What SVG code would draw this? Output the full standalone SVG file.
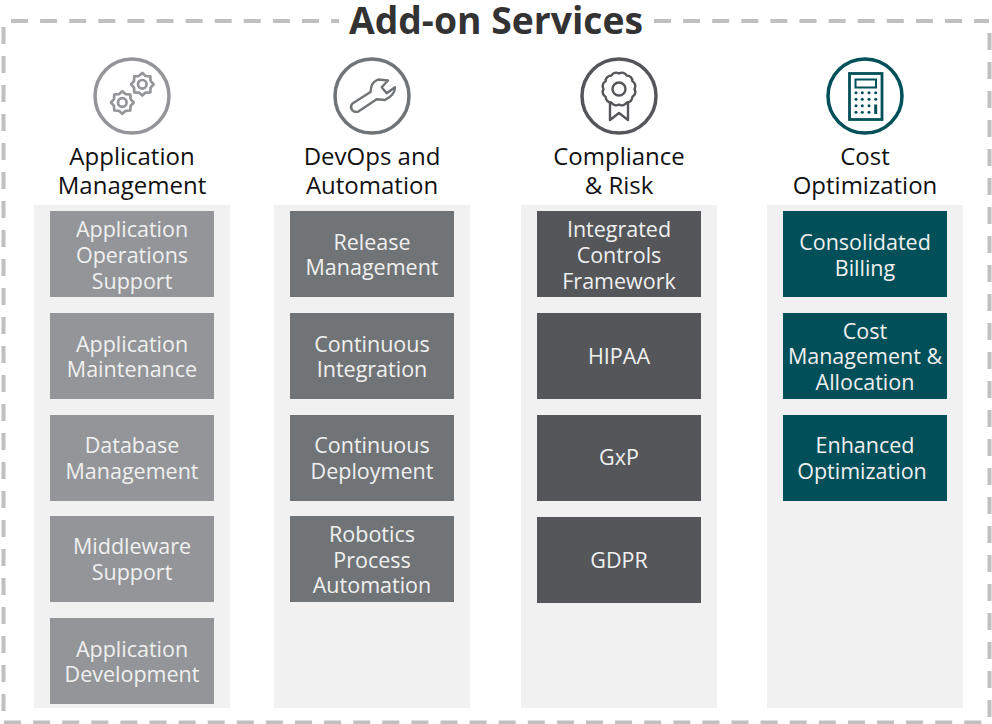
<svg xmlns="http://www.w3.org/2000/svg" width="992" height="724" viewBox="0 0 992 724">
<style>
text{font-family:"Open Sans","Noto Sans","Liberation Sans",sans-serif;text-anchor:middle}
.t{font-size:37.300px;font-weight:700;fill:#333}
.h{font-size:24px;fill:#111}
.c{font-size:21.500px;fill:#f0f0f0}
.p{fill:#f1f1f1}
.a{fill:#939598}.b{fill:#717477}.d{fill:#54565a}.e{fill:#004f59}
.i{fill:none;stroke-width:3.500}
.s{fill:none;stroke-width:2.400;stroke-linejoin:round}
.g{fill:none;stroke-width:2.700;stroke-linejoin:round}
#frame path{fill:none;stroke:#c0c0c0;stroke-width:4}
</style>
<defs>
<g id="gear"><polygon points="11.300,0 8.300,3.400 8,8 3.400,8.300 0,11.300 -3.400,8.300 -8,8 -8.300,3.400 -11.300,0 -8.300,-3.400 -8,-8 -3.400,-8.300 0,-11.300 3.400,-8.300 8,-8 8.300,-3.400"/><circle r="4.300"/></g>
</defs>
<g id="frame">
<path d="M11 21H339" stroke-dasharray="17 12.100"/>
<path d="M653 21H989" stroke-dasharray="17 12.100" stroke-dashoffset="-1"/>
<path d="M3.500 27V722" stroke-dasharray="17 12"/>
<path d="M989.500 33V722" stroke-dasharray="17 12"/>
<path d="M4 722.500H989" stroke-dasharray="17 12.100"/>
</g>
<text class="t" x="496" y="34">Add-on Services</text>
<g id="col1">
<rect class="p" x="34" y="205" width="196" height="503"/>
<g id="icon1" stroke="#939598"><circle class="i" cx="132" cy="96" r="37"/><use href="#gear" class="g" x="122.300" y="102.500"/><use href="#gear" class="g" x="142.300" y="84.300"/></g>
<text class="h" x="132" y="165">Application</text><text class="h" x="132" y="194">Management</text>
<g id="n11"><rect class="a" x="50" y="211" width="164" height="86"/><text class="c" x="132" y="237">Application</text><text class="c" x="132" y="263">Operations</text><text class="c" x="132" y="289">Support</text></g>
<g id="n12"><rect class="a" x="50" y="313" width="164" height="86"/><text class="c" x="132" y="351.500">Application</text><text class="c" x="132" y="376.500">Maintenance</text></g>
<g id="n13"><rect class="a" x="50" y="415" width="164" height="86"/><text class="c" x="132" y="453">Database</text><text class="c" x="132" y="478.500">Management</text></g>
<g id="n14"><rect class="a" x="50" y="516" width="164" height="86"/><text class="c" x="132" y="554">Middleware</text><text class="c" x="132" y="580">Support</text></g>
<g id="n15"><rect class="a" x="50" y="618" width="164" height="86"/><text class="c" x="132" y="656.500">Application</text><text class="c" x="132" y="681.500">Development</text></g>
</g>
<g id="col2">
<rect class="p" x="274" y="205" width="196" height="503"/>
<g id="icon2" stroke="#717477"><circle class="i" cx="372" cy="96" r="37"/><path class="s" d="M352.500 103.500L370.500 92C371 86 372 82 378 79.500L388 80.500L381.700 87.300L386.700 93.300L395 87.300C395 92 391 97 385 100L376.700 99.300L358 111.700C352 113 349 107 352.500 103.500Z"/></g>
<text class="h" x="372" y="165">DevOps and</text><text class="h" x="372" y="194">Automation</text>
<g id="n21"><rect class="b" x="290" y="211" width="164" height="86"/><text class="c" x="372" y="249.500">Release</text><text class="c" x="372" y="275">Management</text></g>
<g id="n22"><rect class="b" x="290" y="313" width="164" height="86"/><text class="c" x="372" y="351.500">Continuous</text><text class="c" x="372" y="376.500">Integration</text></g>
<g id="n23"><rect class="b" x="290" y="415" width="164" height="86"/><text class="c" x="372" y="453">Continuous</text><text class="c" x="372" y="478.500">Deployment</text></g>
<g id="n24"><rect class="b" x="290" y="516" width="164" height="86"/><text class="c" x="372" y="541.500">Robotics</text><text class="c" x="372" y="567.500">Process</text><text class="c" x="372" y="593">Automation</text></g>
</g>
<g id="col3">
<rect class="p" x="521" y="205" width="196" height="503"/>
<g id="icon3" stroke="#54565a"><circle class="i" cx="619" cy="96" r="37"/><path class="s" d="M634.500 89A5.500 5.500 0 0 0 632.400 81.250A5.500 5.500 0 0 0 626.750 75.600A5.500 5.500 0 0 0 619 73.500A5.500 5.500 0 0 0 611.250 75.600A5.500 5.500 0 0 0 605.600 81.250A5.500 5.500 0 0 0 603.500 89A5.500 5.500 0 0 0 605.600 96.750A5.500 5.500 0 0 0 611.250 102.400A5.500 5.500 0 0 0 619 104.500A5.500 5.500 0 0 0 626.750 102.400A5.500 5.500 0 0 0 632.400 96.750A5.500 5.500 0 0 0 634.500 89Z"/><circle class="s" cx="619" cy="89" r="6.500"/><path class="s" d="M610 103V120L619 113L628 120V103"/></g>
<text class="h" x="619" y="165">Compliance</text><text class="h" x="619" y="194">&amp; Risk</text>
<g id="n31"><rect class="d" x="537" y="211" width="164" height="86"/><text class="c" x="619" y="237">Integrated</text><text class="c" x="619" y="263">Controls</text><text class="c" x="619" y="289">Framework</text></g>
<g id="n32"><rect class="d" x="537" y="313" width="164" height="86"/><text class="c" x="619" y="364">HIPAA</text></g>
<g id="n33"><rect class="d" x="537" y="415" width="164" height="86"/><text class="c" x="619" y="465">GxP</text></g>
<g id="n34"><rect class="d" x="537" y="517" width="164" height="86"/><text class="c" x="619" y="568">GDPR</text></g>
</g>
<g id="col4">
<rect class="p" x="767" y="205" width="196" height="503"/>
<g id="icon4" stroke="#004f59"><circle class="i" cx="865" cy="96" r="37"/><rect x="849.500" y="73.500" width="32.500" height="46" fill="none" stroke-width="2.800"/><rect x="855.500" y="79.500" width="20.500" height="8" fill="none" stroke-width="2"/>
<g fill="#004f59" stroke="none"><circle cx="856" cy="92.700" r="1.500"/><circle cx="862.300" cy="92.700" r="1.500"/><circle cx="869" cy="92.700" r="1.500"/><circle cx="875.700" cy="92.700" r="1.500"/><circle cx="856" cy="99.300" r="1.500"/><circle cx="862.300" cy="99.300" r="1.500"/><circle cx="869" cy="99.300" r="1.500"/><circle cx="875.700" cy="99.300" r="1.500"/><circle cx="856" cy="105.700" r="1.500"/><circle cx="862.300" cy="105.700" r="1.500"/><circle cx="869" cy="105.700" r="1.500"/><circle cx="856" cy="112.300" r="1.500"/><circle cx="862.300" cy="112.300" r="1.500"/><circle cx="869" cy="112.300" r="1.500"/><rect x="874.200" y="104.500" width="3" height="9.500"/></g></g>
<text class="h" x="865" y="165">Cost</text><text class="h" x="865" y="194">Optimization</text>
<g id="n41"><rect class="e" x="783" y="211" width="164" height="86"/><text class="c" x="865" y="249.500">Consolidated</text><text class="c" x="865" y="275.500">Billing</text></g>
<g id="n42"><rect class="e" x="783" y="313" width="164" height="86"/><text class="c" x="865" y="339">Cost</text><text class="c" x="865" y="364">Management &amp;</text><text class="c" x="865" y="389.500">Allocation</text></g>
<g id="n43"><rect class="e" x="783" y="415" width="164" height="86"/><text class="c" x="865" y="453">Enhanced</text><text class="c" x="862" y="478.500">Optimization</text></g>
</g>
</svg>
